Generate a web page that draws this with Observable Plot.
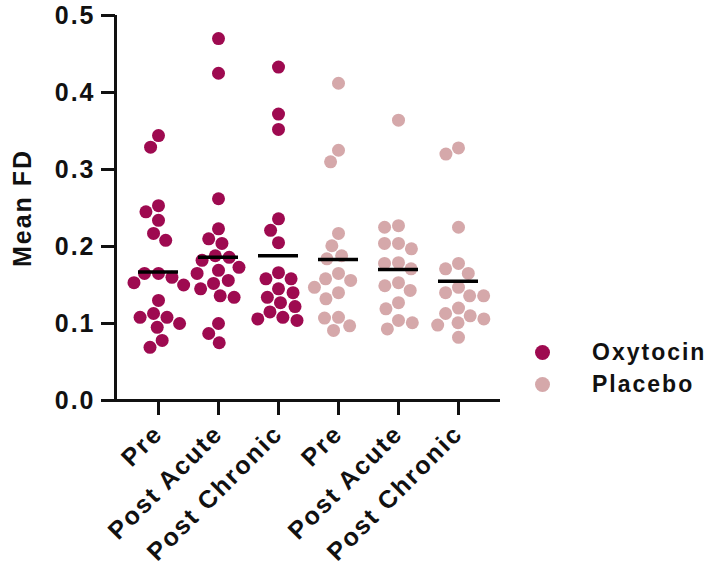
<!DOCTYPE html>
<html><head><meta charset="utf-8">
<script src="https://cdn.jsdelivr.net/npm/d3@7"></script>
<script src="https://cdn.jsdelivr.net/npm/@observablehq/plot@0.6"></script>
<style>
body{margin:0;background:#fff;}
#wrap{position:relative;width:705px;height:567px;font-family:"Liberation Sans",Arial,sans-serif;}
#wrap svg{position:absolute;left:0;top:0;}
#legend{position:absolute;left:535px;top:336px;font-weight:bold;font-size:23px;letter-spacing:2px;color:#111;}
.item{display:flex;align-items:center;height:32px;}
.sw{width:15px;height:15px;border-radius:50%;margin-right:42px;}
</style></head><body><div id="wrap"></div>
<script>
const treatments = ["Oxytocin", "Placebo"];
const timepoints = ["Pre", "Post Acute", "Post Chronic"];
const colors = ["#9E0A50", "#D5A8AA"];
const yTicks = [0, 0.1, 0.2, 0.3, 0.4, 0.5];

const oxytocinPre = [0.344,0.329,0.253,0.245,0.234,0.217,0.208,0.165,0.165,0.160,0.153,0.150,0.130,0.113,0.108,0.108,0.100,0.095,0.078,0.069];
const oxytocinPostAcute = [0.470,0.425,0.262,0.223,0.210,0.204,0.188,0.186,0.182,0.173,0.169,0.165,0.156,0.152,0.145,0.136,0.134,0.100,0.087,0.075];
const oxytocinPostChronic = [0.433,0.372,0.352,0.236,0.221,0.205,0.166,0.158,0.158,0.145,0.140,0.134,0.127,0.122,0.115,0.108,0.106,0.104];
const placeboPre = [0.412,0.325,0.310,0.217,0.201,0.188,0.184,0.165,0.158,0.156,0.147,0.140,0.132,0.108,0.107,0.097,0.091];
const placeboPostAcute = [0.364,0.227,0.225,0.204,0.204,0.197,0.179,0.178,0.171,0.153,0.149,0.143,0.127,0.119,0.104,0.101,0.093];
const placeboPostChronic = [0.328,0.320,0.225,0.178,0.171,0.165,0.147,0.140,0.136,0.136,0.120,0.113,0.110,0.106,0.101,0.098,0.082];
const means = [0.167, 0.186, 0.188, 0.183, 0.170, 0.155];

const series = [
  [oxytocinPre, oxytocinPostAcute, oxytocinPostChronic],
  [placeboPre, placeboPostAcute, placeboPostChronic]
];
const keys = treatments.flatMap(t => timepoints.map(p => t + "|" + p));
const points = [];
treatments.forEach((t, i) => timepoints.forEach((p, j) => series[i][j].forEach(v => points.push({key: t + "|" + p, treatment: t, value: v}))));
const meanRows = keys.map((k, i) => ({key: k, mean: means[i]}));

const W = 705, H = 567;
const M = {marginLeft: 115, marginRight: 205, marginTop: 15, marginBottom: 167};
const baseStyle = {background: "transparent", fontFamily: "'Liberation Sans', Arial, sans-serif", fontWeight: "bold", letterSpacing: "2px", color: "#111", overflow: "visible"};

const plotB = Plot.plot({
  width: W, height: H, ...M,
  style: baseStyle,
  x: {domain: [0, 1], axis: null},
  y: {domain: [0, 0.5]},
  marks: [
    Plot.ruleY([0], {stroke: "#111", strokeWidth: 3}),
    Plot.ruleX([0], {stroke: "#111", strokeWidth: 3}),
    Plot.axisY({ticks: yTicks, tickFormat: d3.format(".1f"), tickSize: 14, tickPadding: 6, fontSize: 25, fontWeight: "bold", strokeWidth: 3, label: "Mean FD", labelAnchor: "center", labelOffset: 102, labelArrow: "none"})
  ]
});

const plotA = Plot.plot({
  width: W, height: H, ...M,
  style: baseStyle,
  y: {domain: [0, 0.5], axis: null},
  fx: {domain: keys, paddingInner: 0, paddingOuter: 0.19, label: null},
  color: {domain: treatments, range: colors},
  marks: [
    Plot.dot(points, Plot.dodgeX("middle", {fx: "key", y: "value", r: 6.5, fill: "treatment", padding: -1})),
    Plot.tickY(meanRows, {fx: "key", y: "mean", stroke: "black", strokeWidth: 3.5, insetLeft: 10, insetRight: 10}),
    Plot.axisFx({anchor: "bottom", tickSize: 15, tickRotate: -45, tickPadding: 14, tickFormat: k => k.split("|")[1], fontSize: 25, fontWeight: "bold", strokeWidth: 3, label: null})
  ]
});

const wrap = document.getElementById("wrap");
wrap.appendChild(plotB);
wrap.appendChild(plotA);

const legend = document.createElement("div");
legend.id = "legend";
treatments.forEach((t, i) => {
  const item = document.createElement("div");
  item.className = "item";
  const sw = document.createElement("span");
  sw.className = "sw";
  sw.style.background = colors[i];
  const label = document.createElement("span");
  label.textContent = t;
  item.appendChild(sw);
  item.appendChild(label);
  legend.appendChild(item);
});
wrap.appendChild(legend);
</script></body></html>
